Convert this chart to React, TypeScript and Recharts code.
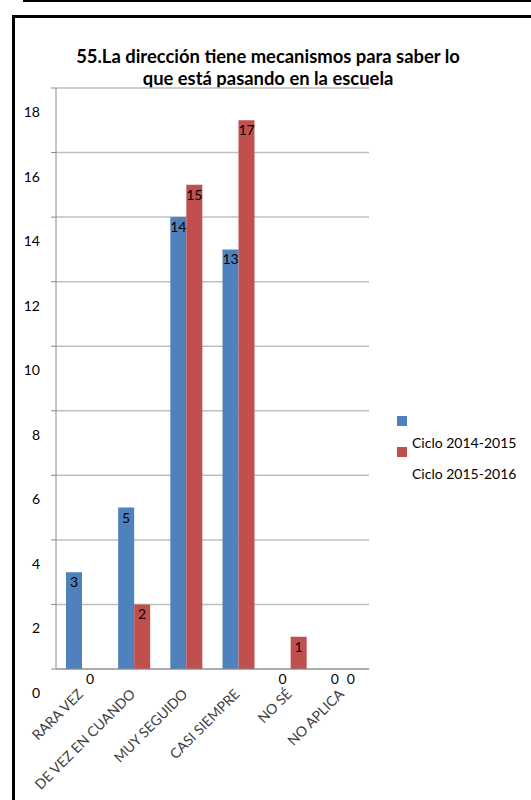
import { BarChart, Bar, XAxis, YAxis, CartesianGrid } from 'recharts';

const categories = ['RARA VEZ', 'DE VEZ EN CUANDO', 'MUY SEGUIDO', 'CASI SIEMPRE', 'NO SÉ', 'NO APLICA'];
const ciclo20142015 = [3, 5, 14, 13, 0, 0];
const ciclo20152016 = [0, 2, 15, 17, 1, 0];
const yTicks = [0, 2, 4, 6, 8, 10, 12, 14, 16, 18];
const seriesNames = ['Ciclo 2014-2015', 'Ciclo 2015-2016'];
const seriesColors = ['#4F81BD', '#C0504D'];

const titleLines = ['55.La dirección tiene mecanismos para saber lo', 'que está pasando en la escuela'];

const FONT = 'Lato, "Open Sans", sans-serif';

const data = categories.map((name, i) => ({
  name,
  a: ciclo20142015[i],
  b: ciclo20152016[i],
}));

function YTick({ x, y, payload }: any) {
  // labels sit below their gridlines in the original
  return (
    <text x={x - 9} y={y + 29} textAnchor="end" fontSize={14} fill="#000" fontFamily={FONT}>
      {payload.value}
    </text>
  );
}

function XTick({ x, y, payload }: any) {
  return (
    <text
      x={x + 2}
      y={y + 18}
      textAnchor="end"
      fontSize={14}
      fill="#404040"
      fontFamily={FONT}
      transform={`rotate(-45, ${x + 2}, ${y + 18})`}
    >
      {payload.value}
    </text>
  );
}

const renderValue = (props: any) => {
  const { x, y, width, value, index } = props;
  return (
    <text
      key={`lbl-${index}`}
      x={Number(x) + Number(width) / 2}
      y={Number(y) + 15}
      textAnchor="middle"
      fontSize={14}
      fill="#000"
      fontFamily={FONT}
    >
      {String(value)}
    </text>
  );
};

// zero bars get a hair-thin rect so their "0" label is still drawn
const tinyForZero = (value: any) => (Number(value) === 0 ? 0.001 : 0);

export default function App() {
  return (
    <div style={{ position: 'absolute', left: 0, top: 0, width: 531, height: 800, overflow: 'hidden', background: '#fff' }}>
      <div style={{ position: 'absolute', left: 23, top: 0, width: 520, height: 2, background: '#000' }} />
      <div
        style={{
          position: 'absolute',
          left: 12,
          top: 15,
          width: 600,
          height: 900,
          borderLeft: '3px solid #000',
          borderTop: '3px solid #000',
        }}
      />
      <div
        style={{
          position: 'absolute',
          left: 18,
          top: 45,
          width: 500,
          textAlign: 'center',
          fontFamily: FONT,
          fontWeight: 'bold',
          fontSize: 18.4,
          lineHeight: '22px',
          color: '#000',
        }}
      >
        {titleLines.map((t) => (
          <div key={t}>{t}</div>
        ))}
      </div>
      <div style={{ position: 'absolute', left: 0, top: 0 }}>
        <BarChart
          width={531}
          height={800}
          data={data}
          margin={{ top: 88, right: 162, bottom: 0, left: 0 }}
          barCategoryGap={10}
          barGap={0}
        >
          <CartesianGrid horizontal vertical={false} stroke="#BFBFBF" strokeWidth={1.5} />
          <YAxis
            width={56}
            domain={[0, 18]}
            ticks={yTicks}
            interval={0}
            axisLine={{ stroke: '#888' }}
            tickLine={{ stroke: '#888' }}
            tickSize={5}
            tick={<YTick />}
          />
          <XAxis
            dataKey="name"
            height={131}
            interval={0}
            axisLine={{ stroke: '#888' }}
            tickLine={false}
            tick={<XTick />}
          />
          <Bar
            dataKey="a"
            name={seriesNames[0]}
            fill={seriesColors[0]}
            isAnimationActive={false}
            minPointSize={tinyForZero}
            label={renderValue}
          />
          <Bar
            dataKey="b"
            name={seriesNames[1]}
            fill={seriesColors[1]}
            isAnimationActive={false}
            minPointSize={tinyForZero}
            label={renderValue}
          />
        </BarChart>
      </div>
      {seriesNames.map((s, i) => (
        <div key={s}>
          <div
            style={{
              position: 'absolute',
              left: 397,
              top: 416 + i * 31,
              width: 10,
              height: 10,
              background: seriesColors[i],
            }}
          />
          <div
            style={{
              position: 'absolute',
              left: 412,
              top: 434 + i * 31,
              fontFamily: FONT,
              fontSize: 14,
              color: '#000',
              whiteSpace: 'nowrap',
            }}
          >
            {s}
          </div>
        </div>
      ))}
    </div>
  );
}
